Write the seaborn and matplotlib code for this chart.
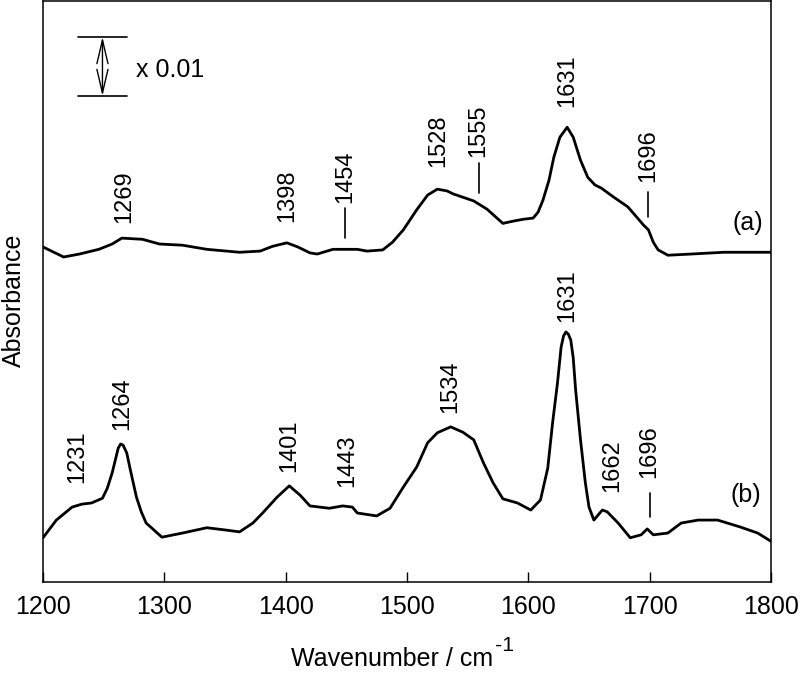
import matplotlib
matplotlib.use("Agg")
import matplotlib.pyplot as plt
import seaborn as sns
import numpy as np
import pandas as pd

# ---------------- data (absorbance in units of 1e-3, arbitrary offsets) -------------
wn_a = [1200, 1217, 1230, 1246, 1257, 1265, 1282, 1296, 1315, 1335, 1362, 1379, 1389,
        1401, 1410, 1420, 1426, 1439, 1450, 1459, 1467, 1480, 1488, 1497, 1508, 1517,
        1525, 1533, 1538, 1555, 1566, 1579, 1588, 1596, 1604, 1608, 1612, 1617, 1621,
        1626, 1632, 1637, 1643, 1649, 1655, 1660, 1670, 1682, 1695, 1699, 1703, 1707,
        1715, 1734, 1761, 1800]
abs_a = [56.8, 55.1, 55.6, 56.4, 57.3, 58.3, 58.1, 57.3, 57.1, 56.4, 55.9, 56.1, 56.9,
         57.5, 56.8, 55.8, 55.6, 56.4, 56.4, 56.4, 56.1, 56.3, 57.6, 59.7, 63.1, 65.6,
         66.6, 66.3, 65.8, 64.6, 63.2, 60.8, 61.2, 61.5, 61.7, 62.7, 64.7, 68.1, 72.0,
         75.4, 77.1, 75.4, 71.5, 68.6, 67.3, 66.8, 65.3, 63.6, 60.5, 59.7, 57.6, 56.3,
         55.4, 55.6, 55.9, 55.9]

wn_b = [1200, 1211, 1224, 1232, 1240, 1249, 1253, 1257, 1260, 1262, 1264, 1266, 1269,
        1272, 1277, 1281, 1285, 1298, 1315, 1335, 1351, 1362, 1373, 1381, 1393, 1403,
        1412, 1420, 1436, 1447, 1455, 1459, 1475, 1486, 1497, 1508, 1517, 1525, 1536,
        1546, 1555, 1563, 1571, 1579, 1591, 1602, 1610, 1616, 1620, 1624, 1627, 1629,
        1631, 1633, 1635, 1637, 1639, 1643, 1647, 1650, 1654, 1661, 1665, 1674, 1684,
        1693, 1698, 1703, 1715, 1726, 1740, 1756, 1775, 1789, 1800]
abs_b = [7.5, 10.5, 12.7, 13.2, 13.4, 14.2, 15.9, 18.5, 21.0, 22.7, 23.4, 23.2, 21.9,
         19.0, 14.4, 11.9, 10.0, 7.6, 8.3, 9.2, 8.8, 8.5, 10.0, 11.7, 14.4, 16.3,
         14.7, 12.9, 12.5, 12.9, 12.7, 11.7, 11.2, 12.5, 16.1, 19.5, 23.6, 25.3, 26.3,
         25.4, 24.1, 20.2, 16.8, 14.1, 13.4, 12.2, 13.9, 19.3, 27.0, 33.7, 39.8, 41.7,
         42.4, 42.0, 41.0, 38.0, 32.5, 24.1, 16.8, 12.7, 10.5, 12.2, 11.9, 10.0, 7.5,
         8.0, 9.0, 8.0, 8.3, 10.0, 10.5, 10.5, 9.3, 8.3, 6.9]

labels_a = ["1269", "1398", "1454", "1528", "1555", "1631", "1696"]
labels_b = ["1231", "1264", "1401", "1443", "1534", "1631", "1662", "1696"]
scale_value = 0.01
scale_text = "x 0.01"

# ---------------- layout (label anchor positions) ----------------
lab_a_x = [1267, 1401, 1449, 1526, 1559, 1632, 1699]
lab_a_y = [60.8, 61.0, 64.2, 70.3, 72.0, 80.5, 67.8]
tick_a = {"1454": (63.4, 58.3), "1555": (71.0, 65.9), "1696": (66.1, 61.9)}
lab_b_x = [1228, 1265, 1403, 1451, 1536, 1632, 1669, 1700]
lab_b_y = [16.8, 25.8, 18.6, 16.1, 28.6, 44.1, 15.3, 17.6]
tick_b = {"1696": (15.1, 11.0)}

sns.set_theme(style="white")
plt.rcParams["font.family"] = ["Liberation Sans", "DejaVu Sans"]
FS = 17     # peak labels
FS2 = 18    # axis text

fig = plt.figure(figsize=(8.0, 6.77), dpi=100)
ax = fig.add_axes([43/800, 1-582/677, 728/800, 581/677])

df = pd.concat([
    pd.DataFrame({"wn": wn_a, "A": abs_a, "s": "a"}),
    pd.DataFrame({"wn": wn_b, "A": abs_b, "s": "b"}),
])
sns.lineplot(data=df, x="wn", y="A", units="s", estimator=None, sort=False,
             color="black", lw=2.0, ax=ax, legend=False)

ax.set_xlim(1200, 1800)
ax.set_ylim(0, 98.5)
ax.set_xticks([1200, 1300, 1400, 1500, 1600, 1700, 1800])
ax.set_yticks([])
ax.tick_params(axis="x", direction="in", length=7, width=1.0, labelsize=FS2,
               pad=9, bottom=True, top=False, colors="black")
for sp in ax.spines.values():
    sp.set_color("black")
    sp.set_linewidth(1.1)

xl = ax.set_xlabel("Wavenumber / cm", fontsize=FS2, color="black")
ax.xaxis.set_label_coords(0.48, -0.112)
ax.annotate("-1", xy=(1.0, 1.0), xycoords=xl, xytext=(1, -6), textcoords="offset points",
            ha="left", va="bottom", fontsize=FS2 * 0.85, color="black",
            annotation_clip=False)
ax.set_ylabel("Absorbance", fontsize=FS2, color="black")
ax.yaxis.set_label_coords(-0.023, 0.485)

def put_labels(texts, xs, ys, ticks):
    for t, x, y in zip(texts, xs, ys):
        ax.text(x, y, t, rotation=90, ha="center", va="bottom", fontsize=FS, color="black")
        if t in ticks:
            y0, y1 = ticks[t]
            ax.plot([x, x], [y1, y0], color="black", lw=1.2)

put_labels(labels_a, lab_a_x, lab_a_y, tick_a)
put_labels(labels_b, lab_b_x, lab_b_y, tick_b)
ax.text(1781, 60.8, "(a)", ha="center", va="center", fontsize=FS2, color="black")
ax.text(1779, 14.7, "(b)", ha="center", va="center", fontsize=FS2, color="black")

# scale bar
top_y = 92.4
bot_y = top_y - scale_value * 1000
ax.plot([1229, 1269], [top_y, top_y], color="black", lw=1.2)
ax.plot([1229, 1269], [bot_y, bot_y], color="black", lw=1.2)
ax.annotate("", xy=(1249, top_y), xytext=(1249, bot_y),
            arrowprops=dict(arrowstyle="<->,head_length=1.7,head_width=0.4",
                            color="black", lw=1.0, shrinkA=0, shrinkB=0,
                            mutation_scale=10))
ax.text(1277, 86.8, scale_text, ha="left", va="center", fontsize=FS2, color="black")

fig.savefig("out.png", dpi=100)
